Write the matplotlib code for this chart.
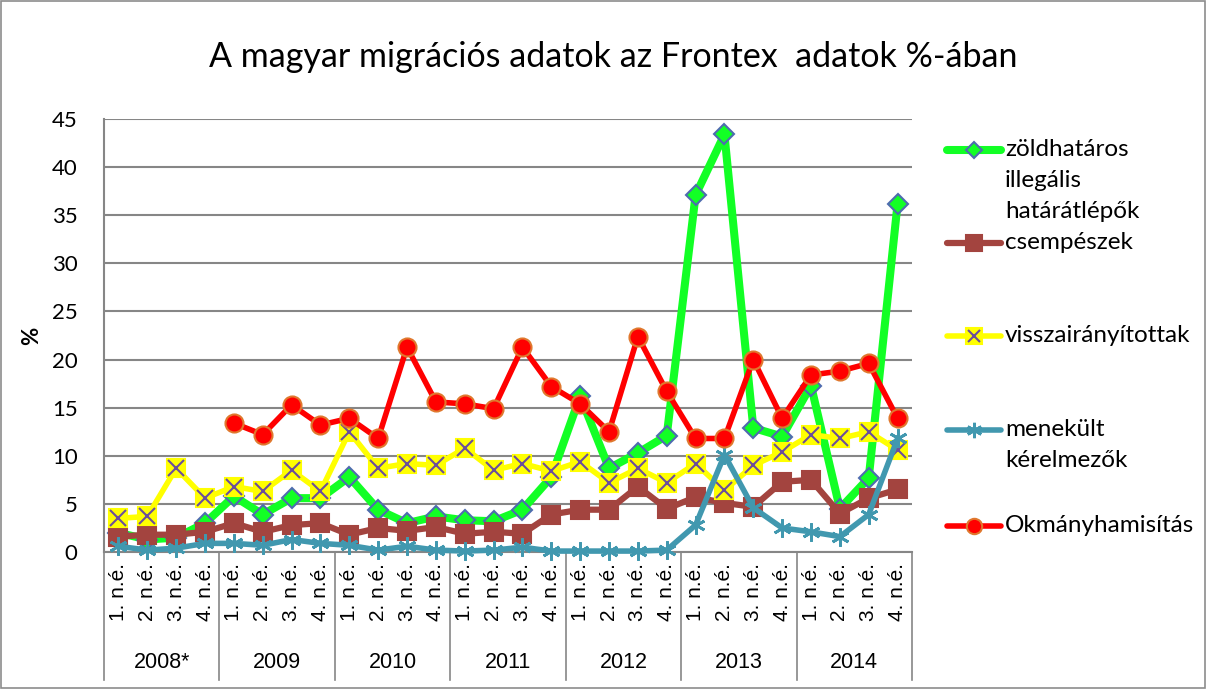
import matplotlib.pyplot as plt
from matplotlib.lines import Line2D
from matplotlib.patches import Rectangle

# quarterly data, 2008* .. 2014
years = ["2008*", "2009", "2010", "2011", "2012", "2013", "2014"]
quarters = ["1. n.é.", "2. n.é.", "3. n.é.", "4. n.é."]

zoldhataros = [2.0, 1.3, 1.5, 3.0, 5.8, 3.9, 5.6, 5.6, 7.8, 4.4,
               3.0, 3.7, 3.3, 3.2, 4.4, 7.8, 16.2, 8.7, 10.3, 12.1,
               37.1, 43.4, 12.9, 12.0, 17.3, 4.5, 7.7, 36.2]
csempeszek = [1.6, 1.8, 1.8, 2.1, 3.0, 2.1, 2.8, 3.0, 1.8, 2.5,
              2.2, 2.6, 1.9, 2.1, 1.9, 3.9, 4.4, 4.4, 6.8, 4.5,
              5.7, 5.1, 4.7, 7.3, 7.5, 4.0, 5.6, 6.5]
visszairanyitottak = [3.5, 3.7, 8.7, 5.6, 6.8, 6.3, 8.5, 6.3, 12.5, 8.7,
                      9.2, 9.0, 10.8, 8.5, 9.2, 8.4, 9.4, 7.2, 8.7, 7.2,
                      9.2, 6.4, 9.0, 10.4, 12.2, 11.8, 12.5, 10.6]
menekult = [0.6, 0.2, 0.4, 0.9, 0.9, 0.7, 1.3, 0.9, 0.7, 0.2,
            0.6, 0.2, 0.1, 0.2, 0.5, 0.1, 0.1, 0.1, 0.1, 0.2,
            2.8, 10.1, 4.6, 2.5, 2.1, 1.6, 3.9, 11.8]
okmany = [None, None, None, None, 13.4, 12.2, 15.3, 13.2, 13.9, 11.8,
          21.3, 15.6, 15.4, 14.9, 21.3, 17.2, 15.4, 12.5, 22.4, 16.7,
          11.8, 11.8, 20.0, 13.9, 18.4, 18.8, 19.6, 13.9]

labels = ["zöldhatáros\nillegális\nhatárátlépők", "csempészek",
          "visszairányítottak", "menekült\nkérelmezők", "Okmányhamisítás"]

okmany = [float('nan') if v is None else v for v in okmany]
n = len(zoldhataros)
x = list(range(n))

fig = plt.figure(figsize=(12.07, 6.89), dpi=100)
fig.patches.append(Rectangle((0.001, 0.001), 0.997, 0.997, transform=fig.transFigure,
                             fill=False, edgecolor='#8c8c8c', lw=1.2))
ax = fig.add_axes([0.0862, 0.1988, 0.6694, 0.6284])

# series styles: (values, line colour, lw, marker, face, edge, size, edge width)
styles = [
    (zoldhataros, '#12FF25', 5.8, 'D', '#12FF25', '#4F6BAF', 10, 1.5),
    (csempeszek, '#A3443F', 4.5, 's', '#A3443F', '#A3443F', 13, 1.5),
    (visszairanyitottak, '#FFFF00', 4.0, 's', '#FFFF00', '#FFFF00', 13, 1.5),
    (menekult, '#4198AF', 4.0, (6, 2, 0), '#4198AF', '#4198AF', 13, 2.0),
    (okmany, '#FF0000', 4.0, 'o', '#FF0000', '#E0782E', 13, 1.5),
]
order = [2, 1, 0, 4, 3]
for k in order:
    vals, col, lw, mk, fc, ec, ms, mw = styles[k]
    ax.plot(x, vals, color=col, lw=lw, marker=mk, mfc=fc, mec=ec, ms=ms,
            mew=mw, zorder=3 + k, clip_on=False)
    if k == 2:
        ax.plot(x, vals, ls='none', marker='x', ms=11, mew=1.5, color='#6B4E9B',
                zorder=3 + k, clip_on=False)

ax.set_xlim(-0.5, n - 0.5)
ax.set_ylim(0, 45)
ax.set_yticks(range(0, 46, 5))
ax.grid(axis='y', color='#868686', lw=1.5)
ax.set_axisbelow(True)
for s in ['top', 'right']:
    ax.spines[s].set_visible(False)
for s in ['left', 'bottom']:
    ax.spines[s].set_color('#868686')
    ax.spines[s].set_linewidth(1.5)
ax.tick_params(axis='y', length=0, labelsize=16, pad=19)
for t in ax.get_yticklabels():
    t.set_fontfamily('Lato')

ax.set_xticks(x)
ax.set_xticklabels(quarters * len(years), rotation=90, fontsize=15,
                   fontfamily='Liberation Sans')
ax.tick_params(axis='x', length=0, pad=8)

ax.set_ylabel('%', fontsize=16, fontweight='bold', fontfamily='Lato')
ax.yaxis.set_label_coords(-62 / 808, 0.5)

# year group separators and labels
for i in range(len(years) + 1):
    ax.plot([i * 4 - 0.5] * 2, [0, -0.296], color='#868686', lw=1.2,
            transform=ax.get_xaxis_transform(), clip_on=False)
for i, yr in enumerate(years):
    ax.text(i * 4 + 1.5, -0.256, yr, transform=ax.get_xaxis_transform(),
            ha='center', va='center', fontsize=15.5, fontfamily='Liberation Sans')

fig.text(0.508, 0.917, 'A magyar migrációs adatok az Frontex  adatok %-ában',
         ha='center', va='center', fontsize=24.5, fontfamily='Lato')

# legend drawn by hand to keep the spacing of the reference
leg_y = [150, 243, 336, 430, 526]
for k, lab in enumerate(labels):
    vals, col, lw, mk, fc, ec, ms, mw = styles[k]
    yf = 1 - leg_y[k] / 689
    fig.add_artist(Line2D([947 / 1207, 1001 / 1207], [yf, yf], color=col, lw=lw,
                          solid_capstyle='round', transform=fig.transFigure))
    fig.add_artist(Line2D([974 / 1207], [yf], marker=mk, mfc=fc, mec=ec, ms=ms * 0.85,
                          mew=mw, ls='none', transform=fig.transFigure))
    if k == 2:
        fig.add_artist(Line2D([974 / 1207], [yf], marker='x', ms=9, mew=1.5,
                              color='#6B4E9B', ls='none', transform=fig.transFigure))
    fig.text(1005 / 1207, yf + 11 / 689, lab, ha='left', va='top', fontsize=17.5,
             fontfamily='Lato', linespacing=1.58)

fig.savefig('out.png', dpi=100)
